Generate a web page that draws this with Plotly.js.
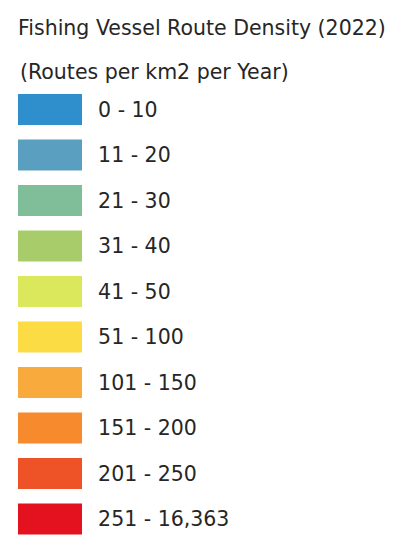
<!DOCTYPE html>
<html>
<head>
<meta charset="utf-8">
<script src="https://cdn.plot.ly/plotly-3.0.1.min.js"></script>
<style>html,body{margin:0;padding:0;background:#fff;}#chart{width:414px;height:540px;}</style>
</head>
<body>
<div id="chart"></div>
<script>
var titleLine1 = "Fishing Vessel Route Density (2022)";
var titleLine2 = "(Routes per km2 per Year)";
var classLabels = ["0 - 10", "11 - 20", "21 - 30", "31 - 40", "41 - 50", "51 - 100", "101 - 150", "151 - 200", "201 - 250", "251 - 16,363"];
var classColors = ["#2E8FCC", "#5B9FC0", "#80BE99", "#A9CC6B", "#DCE85B", "#FCDC45", "#F9AA3C", "#F78A2C", "#EE5227", "#E3121E"];
var swatchValue = [1, 1, 1, 1, 1, 1, 1, 1, 1, 1];

var rowIndex = classLabels.map(function(_, i){ return i; });
var font = "DejaVu Sans, Verdana, sans-serif";

var trace = {
  type: "bar",
  orientation: "h",
  x: swatchValue,
  y: rowIndex,
  width: 0.68,
  marker: {color: classColors, line: {width: 0}},
  hoverinfo: "skip",
  showlegend: false
};

var layout = {
  width: 414, height: 540,
  margin: {l: 18, r: 332, t: 87, b: 5},
  paper_bgcolor: "#ffffff",
  plot_bgcolor: "#ffffff",
  title: {
    text: titleLine1,
    x: 18/414, xanchor: "left", xref: "container",
    y: 1 - 28/540, yanchor: "middle", yref: "container",
    font: {family: font, size: 20.5, color: "#262626"}
  },
  xaxis: {range: [0, 1], visible: false, fixedrange: true},
  yaxis: {
    range: [9.352, -0.495],
    tickvals: rowIndex,
    ticktext: classLabels,
    side: "right",
    showgrid: false, zeroline: false, showline: false,
    ticks: "outside", ticklen: 11, tickcolor: "rgba(0,0,0,0)",
    tickfont: {family: font, size: 20.5, color: "#262626"},
    fixedrange: true
  },
  annotations: [{
    text: titleLine2,
    xref: "paper", yref: "paper",
    x: 0, xanchor: "left",
    y: (535 - 72)/448, yanchor: "middle",
    showarrow: false,
    font: {family: font, size: 20.5, color: "#262626"}
  }]
};

Plotly.newPlot("chart", [trace], layout, {displayModeBar: false, staticPlot: true});
</script>
</body>
</html>
